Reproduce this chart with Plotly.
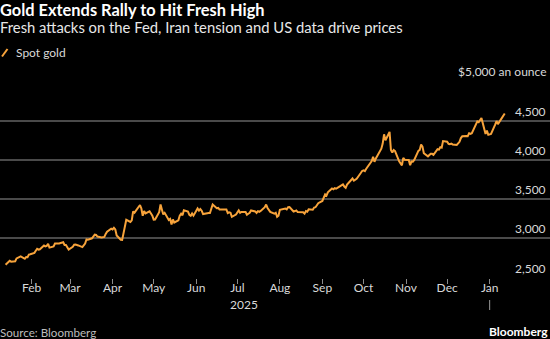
import plotly.graph_objects as go

# ---------------- data ----------------
dates = [
    "2025-01-13", "2025-01-14", "2025-01-15", "2025-01-16", "2025-01-17", "2025-01-20", "2025-01-21",
    "2025-01-22", "2025-01-23", "2025-01-24", "2025-01-27", "2025-01-28", "2025-01-29", "2025-01-30",
    "2025-01-31", "2025-02-03", "2025-02-04", "2025-02-05", "2025-02-06", "2025-02-07", "2025-02-10",
    "2025-02-11", "2025-02-12", "2025-02-13", "2025-02-14", "2025-02-17", "2025-02-18", "2025-02-19",
    "2025-02-20", "2025-02-21", "2025-02-24", "2025-02-25", "2025-02-26", "2025-02-27", "2025-02-28",
    "2025-03-03", "2025-03-04", "2025-03-05", "2025-03-06", "2025-03-07", "2025-03-10", "2025-03-11",
    "2025-03-12", "2025-03-13", "2025-03-14", "2025-03-17", "2025-03-18", "2025-03-19", "2025-03-20",
    "2025-03-21", "2025-03-24", "2025-03-25", "2025-03-26", "2025-03-27", "2025-03-28", "2025-03-31",
    "2025-04-01", "2025-04-02", "2025-04-03", "2025-04-04", "2025-04-07", "2025-04-08", "2025-04-09",
    "2025-04-10", "2025-04-11", "2025-04-14", "2025-04-15", "2025-04-16", "2025-04-17", "2025-04-21",
    "2025-04-22", "2025-04-23", "2025-04-24", "2025-04-25", "2025-04-28", "2025-04-29", "2025-04-30",
    "2025-05-01", "2025-05-02", "2025-05-05", "2025-05-06", "2025-05-07", "2025-05-08", "2025-05-09",
    "2025-05-12", "2025-05-13", "2025-05-14", "2025-05-15", "2025-05-16", "2025-05-19", "2025-05-20",
    "2025-05-21", "2025-05-22", "2025-05-23", "2025-05-26", "2025-05-27", "2025-05-28", "2025-05-29",
    "2025-05-30", "2025-06-02", "2025-06-03", "2025-06-04", "2025-06-05", "2025-06-06", "2025-06-09",
    "2025-06-10", "2025-06-11", "2025-06-12", "2025-06-13", "2025-06-16", "2025-06-17", "2025-06-18",
    "2025-06-19", "2025-06-20", "2025-06-23", "2025-06-24", "2025-06-25", "2025-06-26", "2025-06-27",
    "2025-06-30", "2025-07-01", "2025-07-02", "2025-07-03", "2025-07-04", "2025-07-07", "2025-07-08",
    "2025-07-09", "2025-07-10", "2025-07-11", "2025-07-14", "2025-07-15", "2025-07-16", "2025-07-17",
    "2025-07-18", "2025-07-21", "2025-07-22", "2025-07-23", "2025-07-24", "2025-07-25", "2025-07-28",
    "2025-07-29", "2025-07-30", "2025-07-31", "2025-08-01", "2025-08-04", "2025-08-05", "2025-08-06",
    "2025-08-07", "2025-08-08", "2025-08-11", "2025-08-12", "2025-08-13", "2025-08-14", "2025-08-15",
    "2025-08-18", "2025-08-19", "2025-08-20", "2025-08-21", "2025-08-22", "2025-08-25", "2025-08-26",
    "2025-08-27", "2025-08-28", "2025-08-29", "2025-09-01", "2025-09-02", "2025-09-03", "2025-09-04",
    "2025-09-05", "2025-09-08", "2025-09-09", "2025-09-10", "2025-09-11", "2025-09-12", "2025-09-15",
    "2025-09-16", "2025-09-17", "2025-09-18", "2025-09-19", "2025-09-22", "2025-09-23", "2025-09-24",
    "2025-09-25", "2025-09-26", "2025-09-29", "2025-09-30", "2025-10-01", "2025-10-02", "2025-10-03",
    "2025-10-06", "2025-10-07", "2025-10-08", "2025-10-09", "2025-10-10", "2025-10-13", "2025-10-14",
    "2025-10-15", "2025-10-16", "2025-10-17", "2025-10-20", "2025-10-21", "2025-10-22", "2025-10-23",
    "2025-10-24", "2025-10-27", "2025-10-28", "2025-10-29", "2025-10-30", "2025-10-31", "2025-11-03",
    "2025-11-04", "2025-11-05", "2025-11-06", "2025-11-07", "2025-11-10", "2025-11-11", "2025-11-12",
    "2025-11-13", "2025-11-14", "2025-11-17", "2025-11-18", "2025-11-19", "2025-11-20", "2025-11-21",
    "2025-11-24", "2025-11-25", "2025-11-26", "2025-11-27", "2025-11-28", "2025-12-01", "2025-12-02",
    "2025-12-03", "2025-12-04", "2025-12-05", "2025-12-08", "2025-12-09", "2025-12-10", "2025-12-11",
    "2025-12-12", "2025-12-15", "2025-12-16", "2025-12-17", "2025-12-18", "2025-12-19", "2025-12-22",
    "2025-12-23", "2025-12-24", "2025-12-26", "2025-12-29", "2025-12-30", "2025-12-31", "2026-01-02",
    "2026-01-05", "2026-01-06", "2026-01-07", "2026-01-08", "2026-01-09", "2026-01-12",
]
spot_gold = [
    2663, 2677, 2697, 2715, 2703, 2708, 2745,
    2755, 2755, 2771, 2740, 2763, 2760, 2794,
    2798, 2815, 2842, 2867, 2856, 2861, 2908,
    2898, 2904, 2929, 2882, 2898, 2935, 2933,
    2939, 2936, 2951, 2915, 2916, 2876, 2858,
    2893, 2918, 2920, 2911, 2910, 2889, 2916,
    2934, 2988, 2984, 3001, 3034, 3048, 3043,
    3023, 3011, 3020, 3019, 3057, 3085, 3124,
    3113, 3134, 3114, 3037, 2982, 2980, 3083,
    3175, 3237, 3210, 3230, 3343, 3327, 3425,
    3381, 3288, 3349, 3319, 3344, 3316, 3288,
    3239, 3240, 3334, 3431, 3366, 3305, 3325,
    3235, 3248, 3177, 3240, 3202, 3229, 3290,
    3314, 3294, 3357, 3342, 3300, 3288, 3317,
    3289, 3380, 3353, 3373, 3353, 3310, 3326,
    3322, 3323, 3387, 3432, 3384, 3388, 3369,
    3370, 3368, 3368, 3323, 3332, 3327, 3274,
    3303, 3338, 3357, 3326, 3337, 3336, 3301,
    3313, 3325, 3355, 3343, 3324, 3347, 3339,
    3350, 3397, 3431, 3387, 3368, 3337, 3314,
    3326, 3274, 3289, 3363, 3373, 3380, 3370,
    3397, 3398, 3342, 3348, 3356, 3335, 3336,
    3332, 3315, 3348, 3339, 3371, 3365, 3393,
    3397, 3416, 3448, 3477, 3533, 3560, 3545,
    3586, 3636, 3625, 3640, 3634, 3643, 3679,
    3689, 3660, 3644, 3685, 3746, 3763, 3735,
    3749, 3760, 3833, 3859, 3866, 3857, 3887,
    3961, 3985, 4040, 3976, 4018, 4110, 4143,
    4207, 4326, 4251, 4356, 4125, 4095, 4126,
    4112, 3981, 3952, 3930, 4025, 4002, 4000,
    3932, 3980, 3977, 4000, 4115, 4127, 4195,
    4170, 4085, 4045, 4067, 4078, 4077, 4065,
    4136, 4131, 4162, 4156, 4240, 4232, 4205,
    4201, 4207, 4197, 4190, 4209, 4230, 4278,
    4300, 4304, 4303, 4338, 4332, 4339, 4444,
    4490, 4480, 4532, 4331, 4372, 4319, 4330,
    4448, 4495, 4456, 4477, 4510, 4590,
]
series_name = "Spot gold"

month_ticks = ["2025-02-01", "2025-03-01", "2025-04-01", "2025-05-01", "2025-06-01", "2025-07-01",
               "2025-08-01", "2025-09-01", "2025-10-01", "2025-11-01", "2025-12-01", "2026-01-01"]
month_labels = ["Feb", "Mar", "Apr", "May", "Jun", "Jul", "Aug", "Sep", "Oct", "Nov", "Dec", "Jan"]
year_label = "2025"
year_label_pos = "2025-07-06"
year_break = "2026-01-01"

y_ticks = [2500, 3000, 3500, 4000, 4500, 5000]
y_labels = ["2,500", "3,000", "3,500", "4,000", "4,500", "$5,000 an ounce"]

title_text = "Gold Extends Rally to Hit Fresh High"
subtitle_text = "Fresh attacks on the Fed, Iran tension and US data drive prices"
source_text = "Source: Bloomberg"
brand_text = "Bloomberg"

# ---------------- styling ----------------
FONT = "Lato"
ORANGE = "#F7A33B"
GRID = "#4a4a4a"
TEXT = "#d9d9d9"
BG = "#000000"

W, H = 550, 339
MT, MB = 81, 61
PH = H - MT - MB


def py(px):
    """pixel row -> paper y"""
    return (H - MB - px) / PH


fig = go.Figure()
fig.add_trace(go.Scatter(
    x=dates, y=spot_gold, mode="lines", name=series_name,
    line=dict(color=ORANGE, width=2), showlegend=False, hoverinfo="skip",
))

annotations = []
for v, lab in zip(y_ticks, y_labels):
    annotations.append(dict(
        x=1, xref="paper", y=v, yref="y", text=lab, showarrow=False,
        xanchor="right", yanchor="bottom", xshift=-2, yshift=0,
        font=dict(family=FONT, size=12, color=TEXT),
    ))

annotations += [
    dict(x=0, xref="paper", y=py(10), yref="paper", text="<b>" + title_text + "</b>",
         showarrow=False, xanchor="left", yanchor="middle", xshift=-2,
         font=dict(family=FONT, size=16.4, color="#ffffff")),
    dict(x=0, xref="paper", y=py(27), yref="paper", text=subtitle_text,
         showarrow=False, xanchor="left", yanchor="middle", xshift=-2,
         font=dict(family=FONT, size=14.8, color="#e8e8e8")),
    dict(x=0, xref="paper", y=py(52.5), yref="paper", text=series_name,
         showarrow=False, xanchor="left", yanchor="middle", xshift=14,
         font=dict(family=FONT, size=12, color=TEXT)),
    dict(x=year_label_pos, xref="x", y=py(304), yref="paper", text=year_label,
         showarrow=False, xanchor="center", yanchor="middle",
         font=dict(family=FONT, size=12, color=TEXT)),
    dict(x=0, xref="paper", y=py(332), yref="paper", text=source_text,
         showarrow=False, xanchor="left", yanchor="middle", xshift=-2,
         font=dict(family=FONT, size=11.6, color="#bdbdbd")),
    dict(x=1, xref="paper", y=py(331), yref="paper", text="<b>" + brand_text + "</b>",
         showarrow=False, xanchor="right", yanchor="middle", xshift=0,
         font=dict(family=FONT, size=12, color="#ffffff")),
]

shapes = [
    # legend key (slash)
    dict(type="line", xref="paper", yref="paper",
         x0=2 / W, y0=py(56.5), x1=7.5 / W, y1=py(49),
         line=dict(color=ORANGE, width=2)),
    # year separator under Jan
    dict(type="line", xref="x", yref="paper",
         x0=year_break, x1=year_break, y0=py(300), y1=py(310),
         line=dict(color="#9a9a9a", width=1)),
]

fig.update_layout(
    width=W, height=H,
    margin=dict(l=0, r=0, t=MT, b=MB, pad=0),
    paper_bgcolor=BG, plot_bgcolor=BG,
    showlegend=False,
    annotations=annotations,
    shapes=shapes,
    xaxis=dict(
        type="date",
        range=["2025-01-08 22:00", "2026-02-14"],
        tickvals=month_ticks, ticktext=month_labels,
        ticks="outside", ticklen=5, tickwidth=1, tickcolor="#8a8a8a",
        ticklabelstandoff=-6,
        showgrid=False, zeroline=False, showline=False,
        tickfont=dict(family=FONT, size=12, color=TEXT),
        fixedrange=True,
    ),
    yaxis=dict(
        range=[2495, 5005],
        tickvals=y_ticks, showticklabels=False,
        showgrid=True, gridcolor=GRID, gridwidth=1.5,
        zeroline=False, showline=False, ticks="",
        fixedrange=True,
    ),
)

fig.write_html("out.html", include_plotlyjs=True, config={"displayModeBar": False})
